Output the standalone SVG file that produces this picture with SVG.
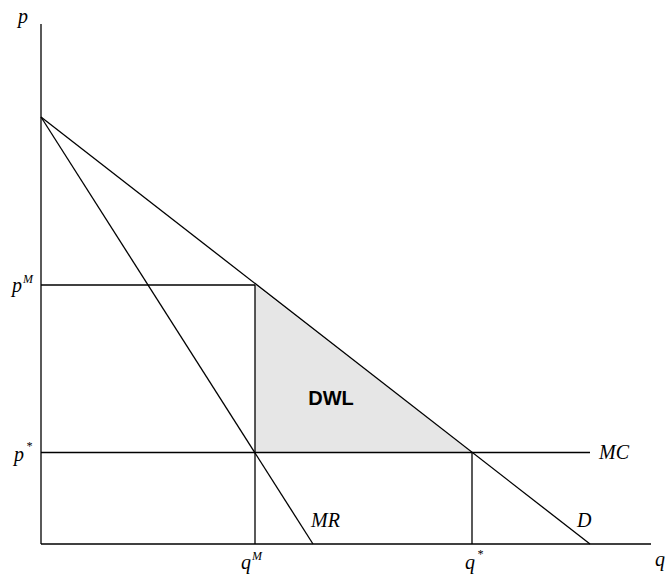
<svg xmlns="http://www.w3.org/2000/svg" width="667" height="576" viewBox="0 0 667 576">
<style>
.ln{stroke:#000;stroke-width:1.3;fill:none}
.lbl{font-family:"Liberation Serif","Times New Roman",serif;font-style:italic;font-size:20px;fill:#000}
.sup{font-family:"Liberation Serif","Times New Roman",serif;font-style:italic;font-size:12px;fill:#000}
.dwl{font-family:"Liberation Sans",Arial,sans-serif;font-weight:bold;font-size:20px;fill:#000}
</style>
<rect width="667" height="576" fill="#fff"/>
<g id="dwl-area">
<polygon points="255,285 255,452.5 472,452.5" fill="#e6e6e6"/>
<text class="dwl" x="331" y="405" text-anchor="middle">DWL</text>
</g>
<g id="connectors">
<line class="ln" x1="41" y1="24" x2="41" y2="544"/>
<line class="ln" x1="41" y1="544" x2="651" y2="544"/>
<line class="ln" x1="41" y1="117" x2="590" y2="544"/>
<line class="ln" x1="41" y1="117" x2="313" y2="544"/>
<line class="ln" x1="41" y1="452.5" x2="590" y2="452.5"/>
<line class="ln" x1="41" y1="285" x2="255" y2="285"/>
<line class="ln" x1="255" y1="285" x2="255" y2="544"/>
<line class="ln" x1="472" y1="452.5" x2="472" y2="544"/>
</g>
<g id="labels">
<text class="lbl" x="18" y="23">p</text>
<text class="lbl" x="12" y="292">p<tspan class="sup" dx="1" dy="-9">M</tspan></text>
<text class="lbl" x="14" y="461">p<tspan class="sup" dx="2" dy="-11">*</tspan></text>
<text class="lbl" x="241" y="569">q<tspan class="sup" dx="1" dy="-9">M</tspan></text>
<text class="lbl" x="465" y="569">q<tspan class="sup" dx="2" dy="-11">*</tspan></text>
<text class="lbl" x="655" y="566">q</text>
<text class="lbl" x="599" y="459">MC</text>
<text class="lbl" x="311" y="527">MR</text>
<text class="lbl" x="577" y="527">D</text>
</g>
</svg>
